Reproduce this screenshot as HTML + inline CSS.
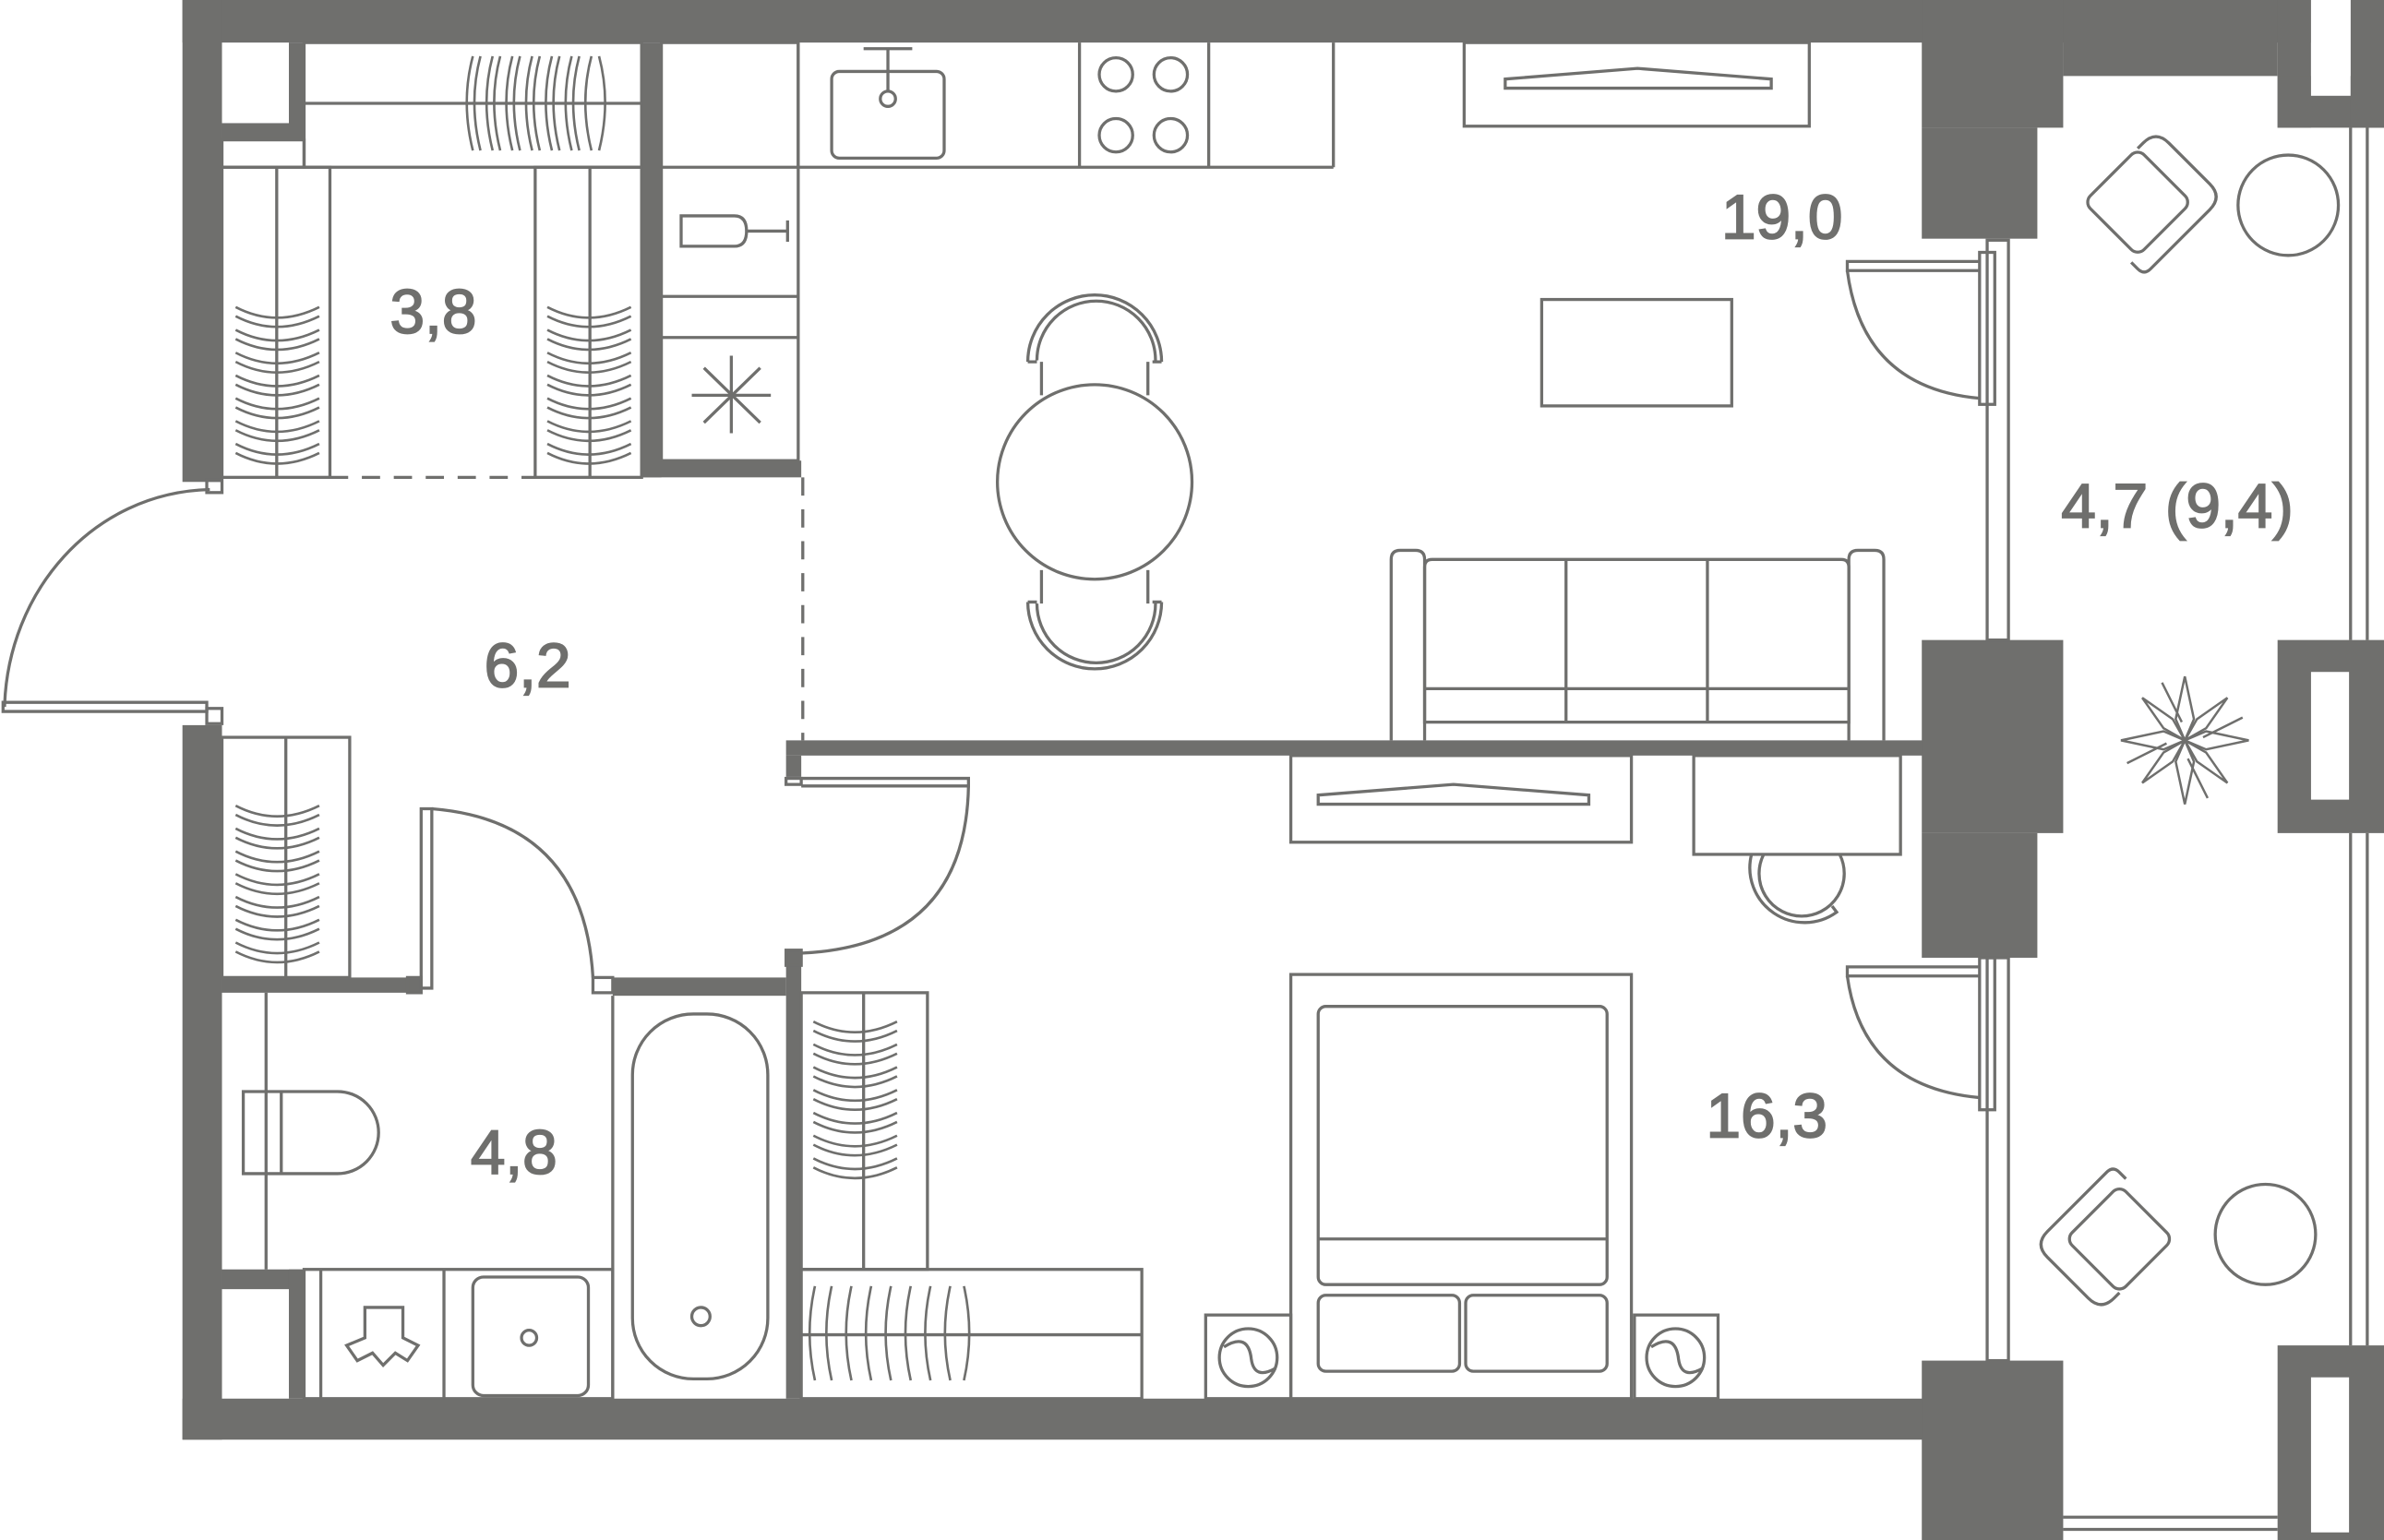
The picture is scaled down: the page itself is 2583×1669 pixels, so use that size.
<!DOCTYPE html>
<html><head><meta charset="utf-8"><style>
html,body{margin:0;padding:0;background:#fff;}
svg{display:block;}
text{font-family:"Liberation Sans",sans-serif;fill:#6f6f6d;stroke:#6f6f6d;stroke-width:1.1;font-size:41px;}
</style></head><body>
<svg width="2583" height="1669" viewBox="0 0 1568 1013" preserveAspectRatio="none" xmlns="http://www.w3.org/2000/svg">
<g fill="#6f6f6d" stroke="none">
<rect x="120" y="0" width="1400" height="28"/>
<rect x="1264" y="0" width="93" height="84"/>
<rect x="1264" y="84" width="76" height="73"/>
<rect x="1357" y="0" width="141" height="50"/>
<rect x="1498" y="0" width="22" height="84"/>
<rect x="1498" y="50" width="70" height="34"/>
<rect x="1546" y="0" width="22" height="84"/>
<rect x="120" y="0" width="26" height="317"/>
<rect x="120" y="477" width="26" height="470"/>
<rect x="190" y="28" width="10" height="64"/>
<rect x="146" y="81" width="54" height="11"/>
<rect x="422" y="28" width="13" height="286"/>
<rect x="422" y="303" width="105" height="11"/>
<rect x="517" y="487" width="749" height="10"/>
<rect x="517" y="497" width="10" height="14"/>
<rect x="1264" y="421" width="93" height="127"/>
<rect x="1264" y="548" width="76" height="82"/>
<rect x="1498" y="421" width="70" height="127"/>
<rect x="120" y="920" width="1150" height="27"/>
<rect x="1264" y="895" width="93" height="118"/>
<rect x="1498" y="885" width="70" height="128"/>
<rect x="517" y="625" width="10" height="295"/>
<rect x="403" y="643" width="114" height="12"/>
<rect x="146" y="643" width="131" height="10"/>
<rect x="146" y="835" width="54" height="13"/>
<rect x="190" y="835" width="10" height="85"/>
</g>
<g fill="#fff">
<rect x="1520" y="0" width="26" height="63"/>
<rect x="1520" y="442" width="25" height="84"/>
<rect x="1520" y="906" width="25" height="102"/>
</g>
<g fill="none" stroke="#6f6f6d" stroke-width="2">
<line x1="1546" y1="84" x2="1546" y2="421"/><line x1="1557" y1="84" x2="1557" y2="421"/>
<line x1="1546" y1="548" x2="1546" y2="885"/><line x1="1557" y1="548" x2="1557" y2="885"/>
<line x1="1357" y1="998" x2="1498" y2="998"/><line x1="1357" y1="1006" x2="1498" y2="1006"/>
<rect x="1307" y="158" width="14" height="263"/>
<rect x="1307" y="630" width="14" height="265"/>
<rect x="1302" y="166" width="10" height="100"/>
<rect x="1302" y="630" width="10" height="100"/>
<path d="M1302,172 H1215 V178 H1302"/><path d="M1215,178 Q1225,255 1302,262"/>
<path d="M1302,636 H1215 V642 H1302"/><path d="M1215,642 Q1225,715 1302,722"/>
<rect x="136" y="316" width="10" height="8"/>
<rect x="136" y="466" width="10" height="10"/>
<path d="M138,322 C60,324 5,390 3,465"/>
<path d="M2,462 H136 V468 H2 Z"/>
<rect x="146" y="92" width="54" height="18"/>
<rect x="200" y="28" width="222" height="82"/><line x1="200" y1="68" x2="422" y2="68"/>
<rect x="146" y="110" width="71" height="204"/><line x1="182" y1="110" x2="182" y2="314"/>
<rect x="352" y="110" width="70" height="204"/><line x1="388" y1="110" x2="388" y2="314"/>
<line x1="217" y1="314" x2="352" y2="314" stroke-dasharray="12,9"/>
<line x1="528" y1="314" x2="528" y2="487" stroke-dasharray="12,9"/>
<g stroke-width="1.6">
<path d="M311,37 q-8,30 0,62 M324,37 q-8,30 0,62 M337,37 q-8,30 0,62 M350,37 q-8,30 0,62 M363,37 q-8,30 0,62 M376,37 q-8,30 0,62 M389,37 q-8,30 0,62"/>
<path d="M316,37 q-8,30 0,62 M329,37 q-8,30 0,62 M342,37 q-8,30 0,62 M355,37 q-8,30 0,62 M368,37 q-8,30 0,62 M381,37 q-8,30 0,62 M394,37 q8,30 0,62"/>
</g>
<g id="hz" stroke-width="1.6">
<path d="M155,202 q27,14 55,0 M155,217 q27,14 55,0 M155,232 q27,14 55,0 M155,247 q27,14 55,0 M155,262 q27,14 55,0 M155,277 q27,14 55,0 M155,292 q27,14 55,0"/>
<path d="M155,208 q27,14 55,0 M155,223 q27,14 55,0 M155,238 q27,14 55,0 M155,253 q27,14 55,0 M155,268 q27,14 55,0 M155,283 q27,14 55,0 M155,298 q27,14 55,0"/>
</g>
<use href="#hz" x="205" y="0"/>
<use href="#hz" x="0" y="328"/>
<use href="#hz" x="380" y="470"/>
<rect x="435" y="28" width="90" height="275"/>
<line x1="435" y1="110" x2="877" y2="110"/>
<line x1="435" y1="195" x2="525" y2="195"/><line x1="435" y1="222" x2="525" y2="222"/>
<path d="M448,142 H483 q8,0 8,10 q0,10 -8,10 H448 Z M491,152 H518 M518,145 V159"/>
<path d="M455,260 H507 M481,234 V285 M463,242 L500,278 M500,242 L463,278"/>
<line x1="525" y1="28" x2="525" y2="110"/>
<line x1="877" y1="28" x2="877" y2="110"/>
<line x1="710" y1="28" x2="710" y2="110"/><line x1="795" y1="28" x2="795" y2="110"/>
<rect x="547" y="47" width="74" height="57" rx="5"/>
<path d="M568,32 H600 M584,32 V60"/><circle cx="584" cy="65" r="5"/>
<circle cx="734" cy="49" r="11"/><circle cx="770" cy="49" r="11"/><circle cx="734" cy="89" r="11"/><circle cx="770" cy="89" r="11"/>
<rect x="963" y="28" width="227" height="55"/>
<path d="M990,52 L1077,45 L1165,52 V58 H990 Z"/>
<rect x="1014" y="197" width="125" height="70"/>
<circle cx="720" cy="317" r="64"/>
<path d="M682,237 a38,38 0 0 1 78,0 M676,238 a44,44 0 0 1 88,0 M676,238 h6 M758,238 h6"/>
<path d="M682,397 a38,38 0 0 0 78,0 M676,396 a44,44 0 0 0 88,0 M676,396 h6 M758,396 h6"/>
<line x1="685" y1="238" x2="685" y2="260"/><line x1="755" y1="238" x2="755" y2="260"/>
<line x1="685" y1="375" x2="685" y2="397"/><line x1="755" y1="375" x2="755" y2="397"/>
<path d="M915,487 V368 q0,-6 6,-6 h10 q6,0 6,6 V487"/>
<path d="M1216,487 V368 q0,-6 6,-6 h11 q6,0 6,6 V487"/>
<path d="M937,475 V373 q0,-5 5,-5 H1211 q5,0 5,5 V475 Z"/>
<line x1="1030" y1="368" x2="1030" y2="475"/><line x1="1123" y1="368" x2="1123" y2="475"/>
<line x1="937" y1="453" x2="1216" y2="453"/>
<rect x="849" y="497" width="224" height="57"/>
<path d="M867,523 L956,516 L1045,523 V529 H867 Z"/>
<rect x="1114" y="497" width="136" height="65"/>
<path d="M1160,562 a28,28 0 1 0 50,0 M1152,562 a36,36 0 0 0 56,38 l-3,-4"/>
<rect x="517" y="512" width="10" height="4"/>
<path d="M527,512 H637 V517 H527"/><path d="M637,517 Q635,622 527,627"/>
<rect x="517" y="625" width="10" height="10"/>
<rect x="849" y="641" width="224" height="279"/>
<rect x="867" y="662" width="190" height="183" rx="5"/>
<line x1="867" y1="815" x2="1057" y2="815"/>
<rect x="867" y="852" width="93" height="50" rx="5"/><rect x="964" y="852" width="93" height="50" rx="5"/>
<rect x="793" y="865" width="56" height="55"/><rect x="1075" y="865" width="55" height="55"/>
<circle cx="821" cy="893" r="19"/><circle cx="1102" cy="893" r="19"/>
<path d="M805,886 q16,-10 18,8 q2,14 16,6 M1086,886 q16,-10 18,8 q2,14 16,6"/>
<rect x="527" y="653" width="83" height="182"/><line x1="568" y1="653" x2="568" y2="835"/>
<rect x="527" y="835" width="224" height="85"/><line x1="527" y1="878" x2="751" y2="878"/>
<path d="M536,846 q-7,31 0,62 M547,846 q-7,31 0,62 M560,846 q-7,31 0,62 M573,846 q-7,31 0,62 M586,846 q-7,31 0,62 M599,846 q-7,31 0,62 M612,846 q-7,31 0,62 M625,846 q-7,31 0,62 M634,846 q7,31 0,62" stroke-width="1.6"/>
<rect x="146" y="485" width="84" height="158"/><line x1="188" y1="485" x2="188" y2="643"/>
<path d="M277,532 V650 H284 V532 Z"/><path d="M284,532 Q384,540 390,643"/>
<rect x="390" y="643" width="13" height="10"/><rect x="268" y="643" width="9" height="10"/>
<line x1="175" y1="653" x2="175" y2="835"/>
<line x1="403" y1="655" x2="403" y2="920"/>
<rect x="416" y="667" width="89" height="240" rx="40"/>
<circle cx="461" cy="866" r="6"/>
<path d="M160,718 H185 V772 H160 Z M185,718 H222 a27,27 0 0 1 0,54 H185"/>
<rect x="200" y="835" width="203" height="85"/>
<line x1="211" y1="835" x2="211" y2="920"/><line x1="292" y1="835" x2="292" y2="920"/>
<path d="M240,860 H265 V880 L275,885 L268,895 L260,890 L252,898 L245,890 L235,895 L228,885 L240,880 Z"/>
<rect x="311" y="840" width="76" height="78" rx="7"/><circle cx="348" cy="880" r="5"/>
<!-- balcony chairs -->
<g transform="translate(1406,133) rotate(45)">
<rect x="-25" y="-25" width="50" height="50" rx="6"/>
<path d="M-25,-25 V-30 q0,-12 12,-12 H25 q12,0 12,12 V25 q0,6 -6,6 H25"/>
</g>
<circle cx="1505" cy="135" r="33"/>
<g transform="translate(1394,815) rotate(-45)">
<rect x="-25" y="-25" width="50" height="50" rx="6"/>
<path d="M-25,-25 V-30 q0,-12 12,-12 H25 q12,0 12,12 V25 q0,6 -6,6 H25" transform="rotate(-90)"/>
</g>
<circle cx="1490" cy="812" r="33"/>
<g stroke-width="1.5" transform="translate(1437,487)">
<path d="M0,-42 L6,-14 L0,0 L-6,-14 Z M0,42 L6,14 L0,0 L-6,14 Z M-42,0 L-14,6 L0,0 L-14,-6 Z M42,0 L14,6 L0,0 L14,-6 Z"/>
<path d="M-28,-28 L-8,-14 L0,0 L-14,-8 Z M28,28 L8,14 L0,0 L14,8 Z M28,-28 L14,-8 L0,0 L8,-14 Z M-28,28 L-14,8 L0,0 L-8,14 Z"/>
<path d="M-15,-38 L-2,-12 M15,38 L2,12 M-38,15 L-12,2 M38,-15 L12,-2"/>
</g>
</g>
<g>
<text x="1172" y="157" text-anchor="middle">19,0</text>
<text x="285" y="219" text-anchor="middle">3,8</text>
<text x="347" y="452" text-anchor="middle">6,2</text>
<text x="338" y="772" text-anchor="middle">4,8</text>
<text x="1162" y="748" text-anchor="middle">16,3</text>
<text x="1432" y="347" text-anchor="middle">4,7 (9,4)</text>
</g>
</svg>
</body></html>
